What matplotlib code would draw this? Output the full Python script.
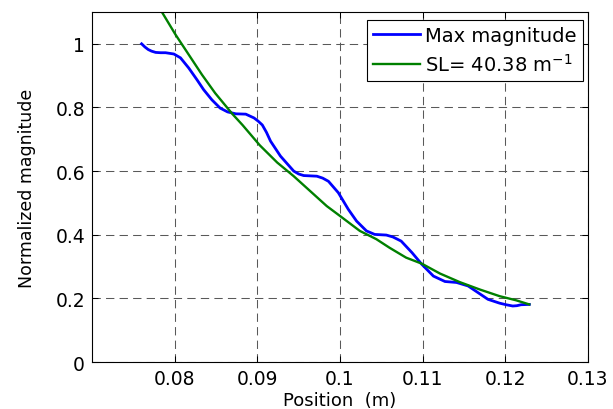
import matplotlib
matplotlib.use("Agg")
import matplotlib.pyplot as plt

# ============================================================
# DATA
# ============================================================

pos_max = [0.0760, 0.0764, 0.0768, 0.0772, 0.0777, 0.0783, 0.0789, 0.0799,
           0.0807, 0.0817, 0.0827, 0.0835, 0.0845, 0.0855, 0.0864, 0.0874,
           0.0886, 0.0896, 0.0901, 0.0906, 0.0911, 0.0916, 0.0928, 0.0944,
           0.0950, 0.0956, 0.0964, 0.0972, 0.0979, 0.0986, 0.0998, 0.1010,
           0.1020, 0.1032, 0.1042, 0.1049, 0.1056, 0.1064, 0.1074, 0.1087,
           0.1099, 0.1113, 0.1127, 0.1141, 0.1155, 0.1167, 0.1179, 0.1193,
           0.1201, 0.1209, 0.1214, 0.1219, 0.1229]
mag_max = [1.000, 0.990, 0.982, 0.977, 0.973, 0.972, 0.972, 0.968,
           0.956, 0.924, 0.887, 0.856, 0.824, 0.798, 0.786, 0.780,
           0.779, 0.767, 0.757, 0.745, 0.722, 0.694, 0.647, 0.600,
           0.591, 0.586, 0.585, 0.584, 0.578, 0.568, 0.532, 0.480,
           0.443, 0.412, 0.401, 0.400, 0.399, 0.393, 0.380, 0.344,
           0.307, 0.270, 0.253, 0.250, 0.239, 0.218, 0.197, 0.185,
           0.180, 0.176, 0.177, 0.180, 0.181]

pos_fit = [0.0776, 0.0785, 0.0801, 0.0817, 0.0833, 0.0849, 0.0870, 0.0882,
           0.0903, 0.0924, 0.0944, 0.0964, 0.0984, 0.1000, 0.1024, 0.1044,
           0.1060, 0.1080, 0.1099, 0.1121, 0.1145, 0.1169, 0.1193, 0.1213,
           0.1229]
mag_fit = [1.135, 1.098, 1.029, 0.966, 0.903, 0.845, 0.779, 0.745,
           0.681, 0.627, 0.584, 0.537, 0.490, 0.459, 0.412, 0.386,
           0.359, 0.328, 0.309, 0.278, 0.251, 0.228, 0.207, 0.194,
           0.181]

labels = ["Max magnitude", "SL= 40.38 m$^{-1}$"]

x_ticks = [0.08, 0.09, 0.10, 0.11, 0.12, 0.13]
x_tick_labels = ["0.08", "0.09", "0.1", "0.11", "0.12", "0.13"]
y_ticks = [0, 0.2, 0.4, 0.6, 0.8, 1.0]
y_tick_labels = ["0", "0.2", "0.4", "0.6", "0.8", "1"]

# ============================================================
# PLOT
# ============================================================

plt.rcParams["font.family"] = ["DejaVu Sans"]

fig = plt.figure(figsize=(6.13, 4.10), dpi=100)
ax = fig.add_axes([0.1501, 0.1146, 0.8091, 0.8537])

ax.plot(pos_max, mag_max, color="#0000ff", lw=2.0, label=labels[0],
        solid_joinstyle="round")
ax.plot(pos_fit, mag_fit, color="#008000", lw=1.7, label=labels[1])

ax.set_xlim(0.07, 0.13)
ax.set_ylim(0, 1.1)
ax.set_xticks(x_ticks)
ax.set_xticklabels(x_tick_labels)
ax.set_yticks(y_ticks)
ax.set_yticklabels(y_tick_labels)

ax.grid(True, color="0.35", linestyle="--", linewidth=0.75, dashes=(8, 5))
ax.tick_params(direction="in", length=4, width=0.75, labelsize=13.5,
               top=True, right=True, pad=5)
for sp in ax.spines.values():
    sp.set_linewidth(0.8)

ax.set_xlabel("Position  (m)", fontsize=13, labelpad=2)
ax.set_ylabel("Normalized magnitude", fontsize=12.5, labelpad=14)

leg = ax.legend(loc="upper right", bbox_to_anchor=(0.9893, 0.978),
                borderaxespad=0, fontsize=14, handlelength=2.4,
                handletextpad=0.3, labelspacing=0.45, borderpad=0.3,
                fancybox=False, framealpha=1)
leg.get_frame().set_edgecolor("black")
leg.get_frame().set_linewidth(0.8)

fig.savefig("out.png", dpi=100)
